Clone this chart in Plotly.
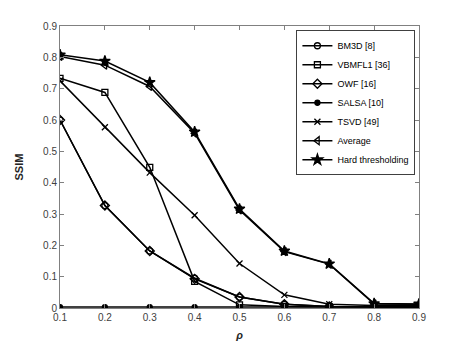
import plotly.graph_objects as go

rho = [0.1, 0.2, 0.3, 0.4, 0.5, 0.6, 0.7, 0.8, 0.9]

bm3d = [0.600, 0.327, 0.182, 0.095, 0.035, 0.012, 0.005, 0.003, 0.003]
vbmfl1 = [0.733, 0.688, 0.449, 0.085, 0.010, 0.005, 0.004, 0.003, 0.003]
owf = [0.600, 0.327, 0.182, 0.093, 0.035, 0.012, 0.005, 0.003, 0.003]
salsa = [0.003, 0.003, 0.003, 0.003, 0.003, 0.003, 0.003, 0.003, 0.003]
tsvd = [0.725, 0.577, 0.432, 0.296, 0.142, 0.042, 0.012, 0.008, 0.008]
average = [0.803, 0.775, 0.707, 0.558, 0.313, 0.180, 0.140, 0.013, 0.012]
hard = [0.808, 0.788, 0.720, 0.562, 0.316, 0.182, 0.141, 0.014, 0.013]

series = [
    ("BM3D [8]", bm3d, "circle-open", 6),
    ("VBMFL1 [36]", vbmfl1, "square-open", 6),
    ("OWF [16]", owf, "diamond-open", 7),
    ("SALSA [10]", salsa, "circle", 5),
    ("TSVD [49]", tsvd, "x-thin-open", 6),
    ("Average", average, "triangle-left-open", 7),
    ("Hard thresholding", hard, "star", 8),
]

fig = go.Figure()
for name, vals, sym, size in series:
    fig.add_trace(go.Scatter(
        x=rho, y=vals, mode="lines+markers", name=name,
        line=dict(color="black", width=1.5),
        marker=dict(symbol=sym, size=size, color="black",
                    line=dict(color="black", width=1.3)),
    ))

axis_common = dict(
    showgrid=False, zeroline=False, showline=True, mirror="ticks",
    linecolor="#808080", linewidth=1, ticks="inside", ticklen=4,
    tickcolor="#808080", tickfont=dict(size=10, color="#404040"),
    automargin=False,
)

# page body has an 8px margin, so the figure margins are shifted by it
fig.update_layout(
    width=463, height=348,
    margin=dict(l=52, r=52, t=18, b=48),
    paper_bgcolor="white", plot_bgcolor="white",
    font=dict(family="Liberation Sans, Arial, sans-serif", color="#262626"),
    xaxis=dict(range=[0.1, 0.9], tickvals=rho,
               title=dict(text="<b><i>ρ</i></b>", font=dict(size=11), standoff=9),
               **axis_common),
    yaxis=dict(range=[0, 0.9], dtick=0.1, tickformat=".1~f",
               title=dict(text="<b>SSIM</b>", font=dict(size=11), standoff=17),
               **axis_common),
    legend=dict(x=0.99, y=0.985, xanchor="right", yanchor="top",
                bgcolor="white", bordercolor="#404040", borderwidth=1,
                font=dict(size=9, color="black"), tracegroupgap=0,
                itemwidth=30),
    showlegend=True,
)

fig.write_html("out.html")
